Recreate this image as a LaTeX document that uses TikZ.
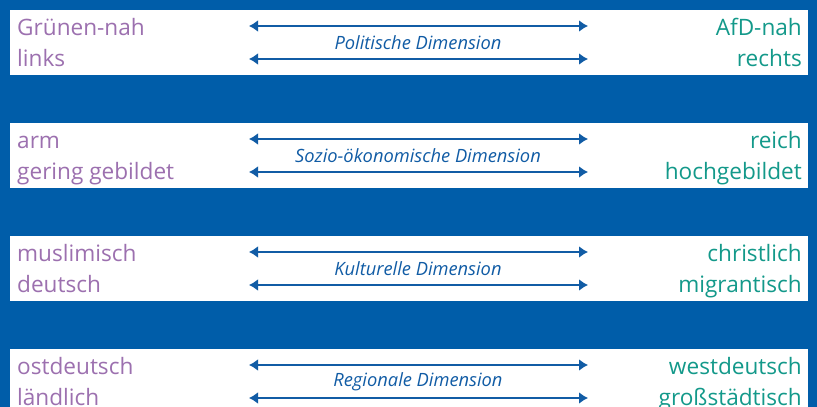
\documentclass[tikz,border=0pt]{standalone}
\usepackage{fontspec}
\setmainfont{Open Sans}
\usetikzlibrary{calc,arrows.meta}

\definecolor{bgblue}{HTML}{005DA9}
\definecolor{arrowblue}{HTML}{115CA5}
\definecolor{leftpurple}{HTML}{9C70AF}
\definecolor{rightteal}{HTML}{13998A}

\tikzset{
  sidetext/.style={inner sep=0pt,font=\fontsize{22.6}{26}\selectfont},
  dimtext/.style={inner sep=0pt,arrowblue,font=\itshape\fontsize{18.3}{22}\selectfont},
  dimarrow/.style={arrowblue,line width=2.7pt,{Latex[length=9pt,width=12pt]}-{Latex[length=9pt,width=12pt]}}
}

\begin{document}
\begin{tikzpicture}[x=1pt,y=-1pt]
  \path[clip] (0,0) rectangle (817,407);
  \fill[bgblue] (0,0) rectangle (817,407);

  \foreach \i/\la/\lb/\dim/\ra/\rb in {
      0/Grünen-nah/links/Politische Dimension/AfD-nah/rechts,
      1/arm/gering gebildet/Sozio-ökonomische Dimension/reich/hochgebildet,
      2/muslimisch/deutsch/Kulturelle Dimension/christlich/migrantisch,
      3/ostdeutsch/ländlich/Regionale Dimension/westdeutsch/großstädtisch} {
    \coordinate (band\i) at (10,10+113*\i);
    \fill[white] (band\i) rectangle ++(798,65);

    \node[sidetext,leftpurple,anchor=base west] (lefta\i) at ($(band\i)+(7,25)$) {\la};
    \node[sidetext,leftpurple,anchor=base west] (leftb\i) at ($(band\i)+(7,56)$) {\lb};
    \node[sidetext,rightteal,anchor=base east] (righta\i) at ($(band\i)+(792,25)$) {\ra};
    \node[sidetext,rightteal,anchor=base east] (rightb\i) at ($(band\i)+(792,56)$) {\rb};

    \node[dimtext] (dim\i) at ($(band\i)+(408,33)$) {\dim};

    \coordinate (tl\i) at ($(band\i)+(239,16)$);
    \coordinate (tr\i) at ($(band\i)+(578,16)$);
    \coordinate (bl\i) at ($(band\i)+(239,49)$);
    \coordinate (br\i) at ($(band\i)+(578,49)$);
    \draw[dimarrow] (tl\i) -- (tr\i);
    \draw[dimarrow] (bl\i) -- (br\i);
  }
\end{tikzpicture}
\end{document}
